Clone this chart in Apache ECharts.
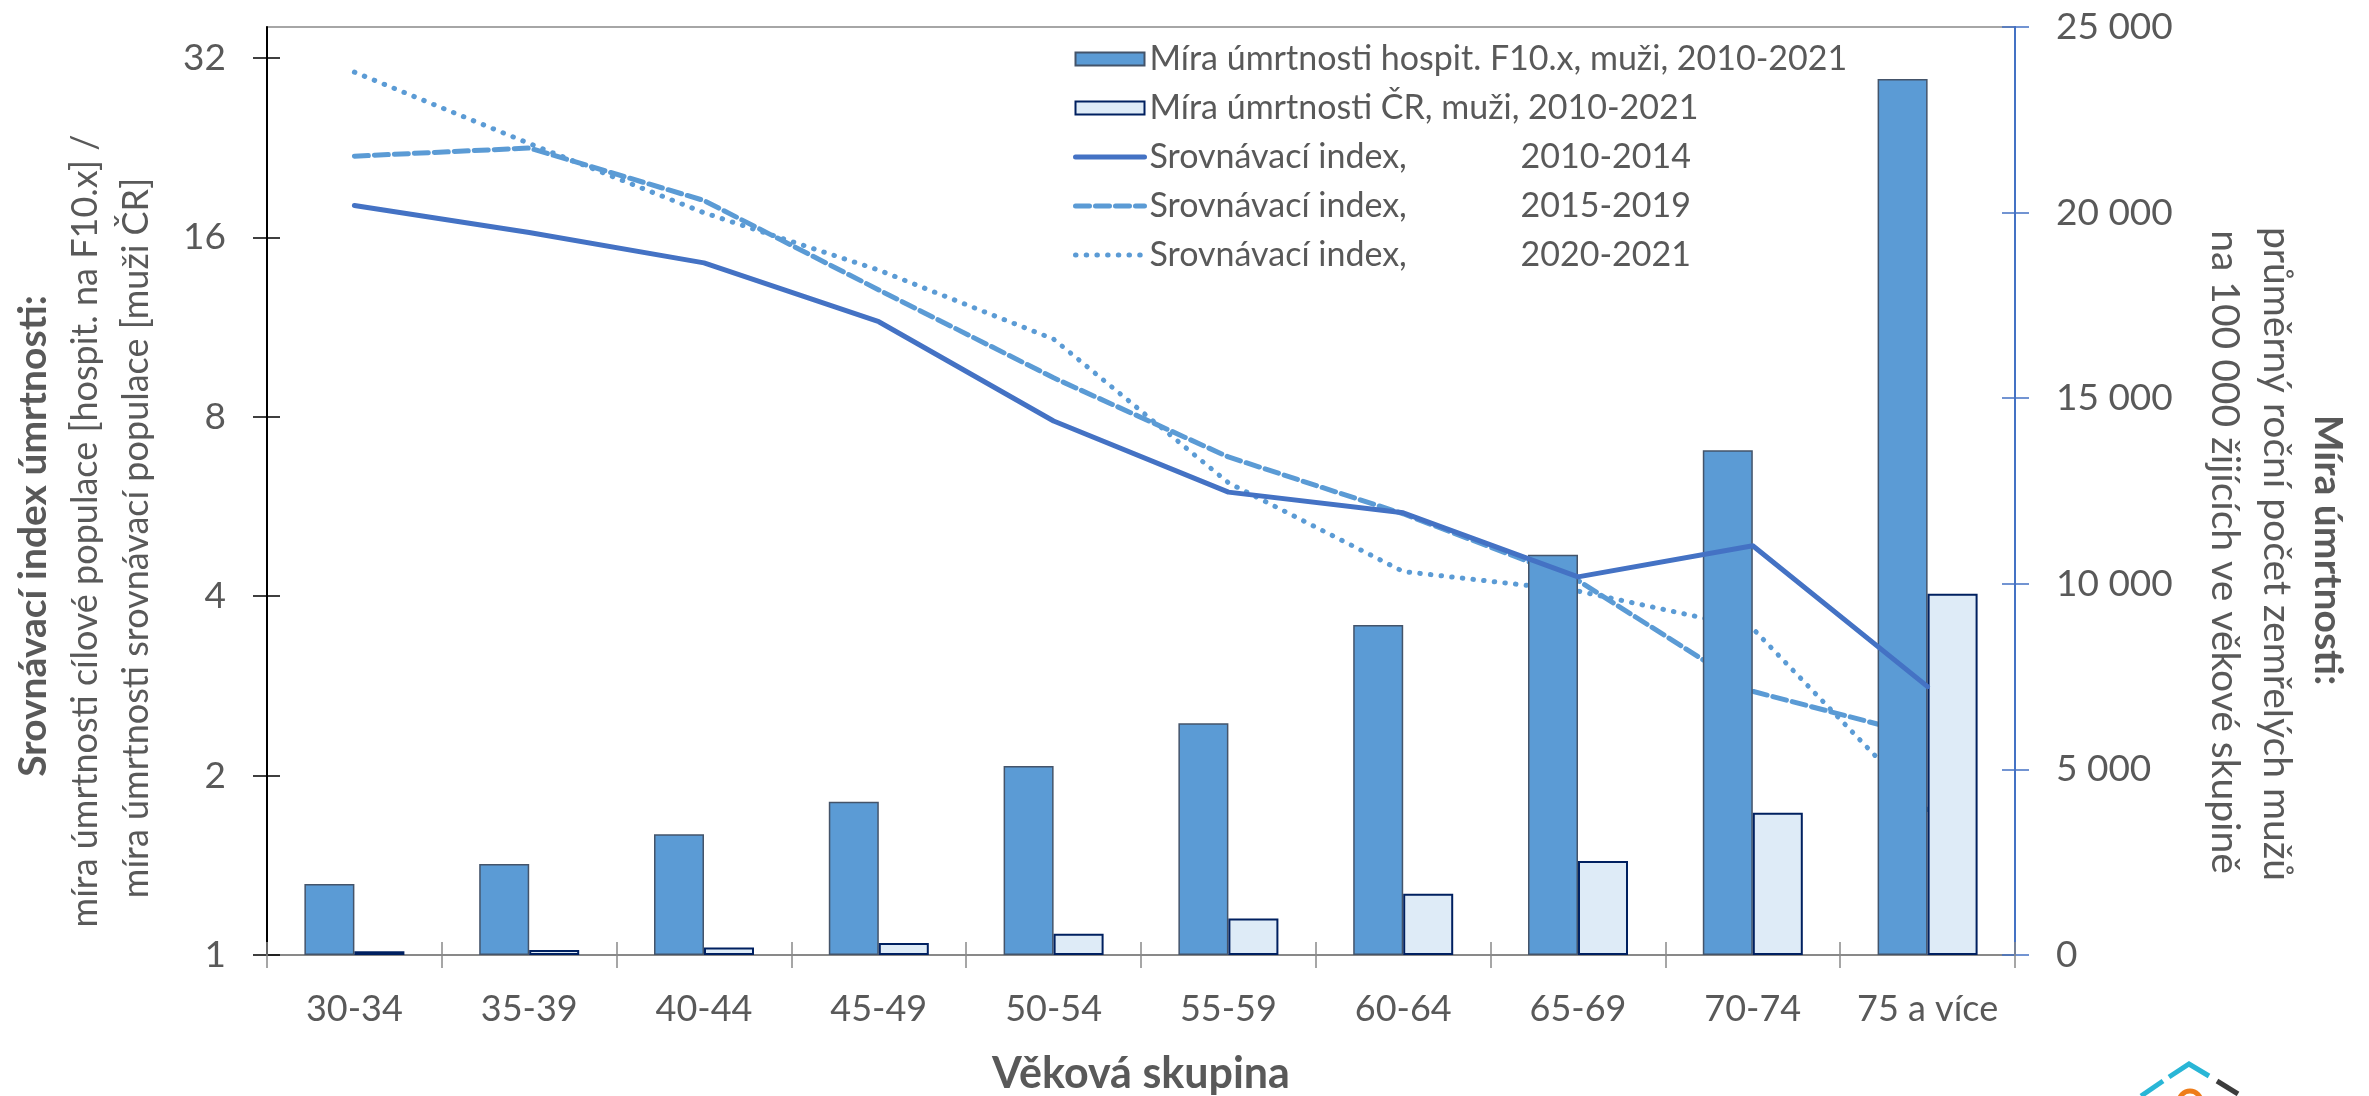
<!DOCTYPE html>
<html><head><meta charset="utf-8">
<script src="https://cdn.jsdelivr.net/npm/echarts@6/dist/echarts.min.js"></script>
<style>html,body{margin:0;padding:0;background:#fff}#c{width:2369px;height:1096px}</style>
</head><body><div id="c"></div>
<script>
const categories = ['30-34','35-39','40-44','45-49','50-54','55-59','60-64','65-69','70-74','75 a více'];
const rateHospit = [1910, 2450, 3250, 4130, 5090, 6240, 8890, 10780, 13600, 23600];
const rateCR = [100, 135, 200, 325, 575, 980, 1650, 2530, 3830, 9730];
const index2010_2014 = [18.1, 16.3, 14.5, 11.55, 7.87, 5.98, 5.52, 4.31, 4.86, 2.82];
const index2015_2019 = [21.9, 22.6, 18.45, 13.06, 9.3, 6.85, 5.5, 4.25, 2.77, 2.32];
const index2020_2021 = [30.3, 23.0, 17.6, 14.1, 10.8, 6.2, 4.4, 4.08, 3.53, 1.75];
const leftTicks = [1, 2, 4, 8, 16, 32];
const rightMin = 0, rightMax = 25000, rightInterval = 5000;

const nameBar1 = 'Míra úmrtnosti hospit. F10.x, muži, 2010-2021';
const nameBar2 = 'Míra úmrtnosti ČR, muži, 2010-2021';
const nameL1 = 'Srovnávací index, 2010-2014';
const nameL2 = 'Srovnávací index, 2015-2019';
const nameL3 = 'Srovnávací index, 2020-2021';

const FONT = 'Lato';
const GREY = '#595959';
const LEFT_MAX = 36.07;

const chart = echarts.init(document.getElementById('c'), null, {renderer: 'canvas'});
const fmtThousands = v => String(v).replace(/\B(?=(\d{3})+(?!\d))/g, ' ');
const hiddenSymbol = {color: 'rgba(0,0,0,0)', borderColor: 'rgba(0,0,0,0)', borderWidth: 0};

const option = {
  animation: false,
  backgroundColor: '#fff',
  grid: {left: 267, right: 354, top: 27, bottom: 141, show: true, borderColor: '#A6A6A6', borderWidth: 2, outerBoundsMode: 'none'},
  legend: {
    orient: 'vertical', left: 1068, top: 34, itemWidth: 69, itemHeight: 13, itemGap: 9,
    selectedMode: false,
    lineStyle: {width: 'inherit'},
    data: [
      {name: nameBar1, icon: 'rect'},
      {name: nameBar2, icon: 'rect'},
      {name: nameL1, itemStyle: hiddenSymbol},
      {name: nameL2, itemStyle: hiddenSymbol},
      {name: nameL3, itemStyle: hiddenSymbol}
    ],
    formatter: function (name) {
      if (name.indexOf('Srovnávací index,') === 0) {
        return '{a|Srovnávací index,}{b|' + name.replace('Srovnávací index, ', '') + '}';
      }
      return '{c|' + name + '}';
    },
    textStyle: {
      fontFamily: FONT, fontSize: 34, color: GREY, lineHeight: 40,
      rich: {
        a: {fontFamily: FONT, fontSize: 34, color: GREY, width: 371, lineHeight: 40},
        b: {fontFamily: FONT, fontSize: 34, color: GREY, lineHeight: 40},
        c: {fontFamily: FONT, fontSize: 34, color: GREY, lineHeight: 40}
      }
    }
  },
  xAxis: [
    {
      type: 'category', data: categories, position: 'bottom',
      axisLine: {show: true, onZero: false, lineStyle: {color: '#898989', width: 2}},
      axisTick: {show: true, length: 13, lineStyle: {color: '#898989', width: 1.5}},
      axisLabel: {margin: 34, color: GREY, fontFamily: FONT, fontSize: 36, lineHeight: 40, interval: 0},
      splitLine: {show: false}
    },
    {
      type: 'category', data: categories, position: 'bottom',
      axisLine: {show: false, onZero: false},
      axisTick: {show: true, inside: true, length: 13, lineStyle: {color: '#898989', width: 1.5}},
      axisLabel: {show: false}, splitLine: {show: false}
    }
  ],
  yAxis: [
    {
      type: 'log', logBase: 2, min: 1, max: LEFT_MAX, position: 'left',
      axisLine: {show: true, lineStyle: {color: '#000', width: 2}},
      axisTick: {show: true, length: 14, lineStyle: {color: '#000', width: 1.5}, customValues: leftTicks},
      axisLabel: {customValues: leftTicks, margin: 41, color: GREY, fontFamily: FONT, fontSize: 37,
        formatter: v => String(Math.round(v))},
      splitLine: {show: false}
    },
    {
      type: 'value', min: rightMin, max: rightMax, interval: rightInterval, position: 'right',
      axisLine: {show: true, lineStyle: {color: '#4472C4', width: 2}},
      axisTick: {show: true, length: 14, lineStyle: {color: '#4472C4', width: 1.5}},
      axisLabel: {margin: 41, color: GREY, fontFamily: FONT, fontSize: 37, formatter: fmtThousands},
      splitLine: {show: false}
    },
    {
      type: 'log', logBase: 2, min: 1, max: LEFT_MAX, position: 'left',
      axisLine: {show: false},
      axisTick: {show: true, inside: true, length: 13, lineStyle: {color: '#000', width: 1.5}, customValues: leftTicks},
      axisLabel: {show: false}, splitLine: {show: false}
    },
    {
      type: 'value', min: rightMin, max: rightMax, interval: rightInterval, position: 'right',
      axisLine: {show: false},
      axisTick: {show: true, inside: true, length: 13, lineStyle: {color: '#4472C4', width: 1.5}},
      axisLabel: {show: false}, splitLine: {show: false}
    }
  ],
  series: [
    {
      name: nameBar1, type: 'bar', xAxisIndex: 0, yAxisIndex: 1, data: rateHospit,
      barWidth: 50, barGap: '0%', z: 2,
      itemStyle: {color: '#5B9BD5', borderColor: '#44546A', borderWidth: 1.5}
    },
    {
      name: nameBar2, type: 'bar', xAxisIndex: 0, yAxisIndex: 1, data: rateCR,
      barWidth: 50, barGap: '0%', z: 2,
      itemStyle: {color: '#DEEBF7', borderColor: '#002060', borderWidth: 2}
    },
    {
      name: nameL1, type: 'line', xAxisIndex: 0, yAxisIndex: 0, data: index2010_2014,
      symbol: 'none', z: 3,
      lineStyle: {color: '#4472C4', width: 5, cap: 'round', join: 'round'},
      itemStyle: {color: '#4472C4'}
    },
    {
      name: nameL2, type: 'line', xAxisIndex: 0, yAxisIndex: 0, data: index2015_2019,
      symbol: 'none', z: 1,
      lineStyle: {color: '#5B9BD5', width: 5, type: [14, 6], cap: 'round', join: 'round'},
      itemStyle: {color: '#5B9BD5'}
    },
    {
      name: nameL3, type: 'line', xAxisIndex: 0, yAxisIndex: 0, data: index2020_2021,
      symbol: 'none', z: 1,
      lineStyle: {color: '#5B9BD5', width: 5, type: [0.5, 10.2], cap: 'round', join: 'round'},
      itemStyle: {color: '#5B9BD5'}
    }
  ],
  graphic: [
    // left axis title
    {type: 'text', x: 33, y: 536, rotation: Math.PI / 2, silent: true,
      style: {text: 'Srovnávací index úmrtnosti:', fill: GREY, font: 'bold 39px ' + FONT, align: 'center', verticalAlign: 'middle'}},
    {type: 'text', x: 85, y: 531, rotation: Math.PI / 2, silent: true,
      style: {text: 'míra úmrtnosti cílové populace [hospit. na F10.x] /', fill: GREY, font: '36px ' + FONT, align: 'center', verticalAlign: 'middle'}},
    {type: 'text', x: 136, y: 538, rotation: Math.PI / 2, silent: true,
      style: {text: 'míra úmrtnosti srovnávací populace [muži ČR]', fill: GREY, font: '36px ' + FONT, align: 'center', verticalAlign: 'middle'}},
    // right axis title
    {type: 'text', x: 2328, y: 550, rotation: -Math.PI / 2, silent: true,
      style: {text: 'Míra úmrtnosti:', fill: GREY, font: 'bold 39px ' + FONT, align: 'center', verticalAlign: 'middle'}},
    {type: 'text', x: 2277, y: 554, rotation: -Math.PI / 2, silent: true,
      style: {text: 'průměrný roční počet zemřelých mužů', fill: GREY, font: '39px ' + FONT, align: 'center', verticalAlign: 'middle'}},
    {type: 'text', x: 2225, y: 552, rotation: -Math.PI / 2, silent: true,
      style: {text: 'na 100 000 žijících ve věkové skupině', fill: GREY, font: '39px ' + FONT, align: 'center', verticalAlign: 'middle'}},
    // x axis title
    {type: 'text', x: 1141, y: 1074, silent: true,
      style: {text: 'Věková skupina', fill: GREY, font: 'bold 43px ' + FONT, align: 'center', verticalAlign: 'middle'}},
    // logo (partially visible)
    {type: 'polyline', silent: true, shape: {points: [[2141, 1096], [2163, 1081]]}, style: {stroke: '#29B6D6', lineWidth: 5, fill: null}},
    {type: 'polyline', silent: true, shape: {points: [[2169, 1077], [2189, 1064], [2209, 1076]]}, style: {stroke: '#29B6D6', lineWidth: 5, fill: null}},
    {type: 'polyline', silent: true, shape: {points: [[2217, 1081], [2238, 1094]]}, style: {stroke: '#3C3C3C', lineWidth: 5, fill: null}},
    {type: 'circle', silent: true, shape: {cx: 2190, cy: 1102, r: 11}, style: {stroke: '#EE7D1A', lineWidth: 5, fill: null}}
  ]
};
chart.setOption(option);
</script></body></html>
